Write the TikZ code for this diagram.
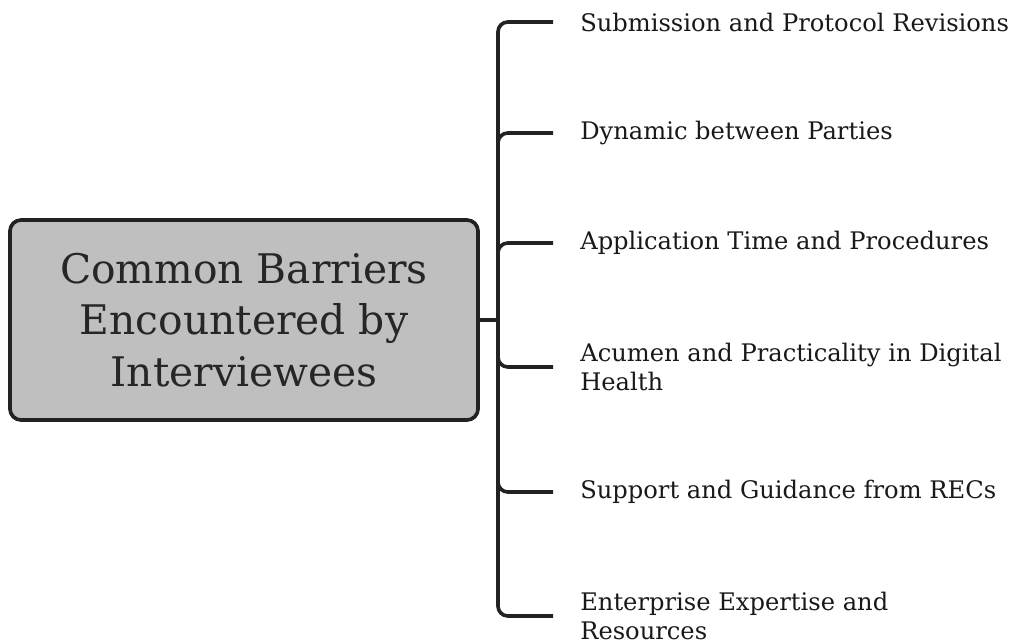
\documentclass[tikz,border=0pt]{standalone}
\usepackage{fontspec}
\setmainfont{DejaVu Serif}
\usetikzlibrary{positioning}
\definecolor{boxgray}{HTML}{BFBFBF}
\definecolor{inkline}{HTML}{222222}
\begin{document}
\begin{tikzpicture}[x=0.025cm,y=-0.025cm,
	rootbox/.style={draw=inkline,line width=2.6pt,rounded corners=8pt,fill=boxgray,
		minimum width=11.7cm,minimum height=5cm,align=center,text=black!85,
		font=\fontsize{29}{36.5}\selectfont},
	leaf/.style={anchor=west,align=left,inner xsep=27*0.025cm,inner ysep=0pt,text=black!90,
		font=\fontsize{17.2}{20.6}\selectfont},
	branch/.style={draw=inkline,line width=2.6pt,rounded corners=7pt}]
	\useasboundingbox (0,0) rectangle (1013,644);
	\node[rootbox] (root) at (244,320) {Common Barriers\\Encountered by\\ Interviewees};%khoi goc
	\coordinate (spine) at (498,320);
	\path (553,22) node[leaf] (b1) {Submission and Protocol Revisions}
	(553,133) node[leaf] (b2) {Dynamic between Parties}
	(553,243) node[leaf] (b3) {Application Time and Procedures}
	(553,367) node[leaf] (b4) {Acumen and Practicality in Digital\\Health}
	(553,492) node[leaf] (b5) {Support and Guidance from RECs}
	(553,616) node[leaf] (b6) {Enterprise Expertise and\\Resources};
	\draw[branch] (root.east)--(spine);
	\foreach \b in {b1,b2,b3,b4,b5,b6} \draw[branch] (spine) |- (\b.west);
\end{tikzpicture}
\end{document}
